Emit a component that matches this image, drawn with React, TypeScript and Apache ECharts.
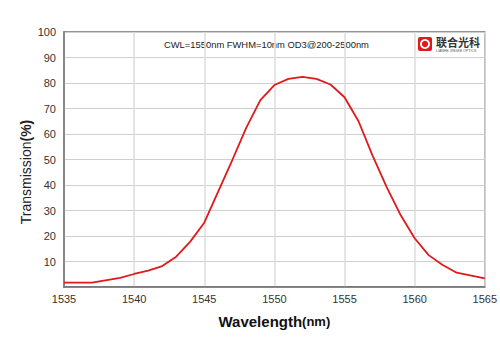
import React, { useEffect, useRef } from "react";
import * as echarts from "echarts";

const wavelengths = [1535, 1537, 1539, 1540, 1541, 1542, 1543, 1544, 1545, 1546, 1547, 1548, 1549, 1550, 1551, 1552, 1553, 1554, 1555, 1556, 1557, 1558, 1559, 1560, 1561, 1562, 1563, 1565];
const transmission = [1.7, 1.7, 3.6, 5.1, 6.4, 8.2, 11.9, 17.8, 25.2, 37.5, 49.8, 62.5, 73.3, 79.2, 81.6, 82.4, 81.6, 79.4, 74.4, 65.0, 51.5, 39.3, 28.2, 19.1, 12.5, 8.6, 5.6, 3.4];
const noteText = "CWL=1550nm FWHM=10nm OD3@200-2500nm";
const brandText = "联合光科";
const brandSub = "LIANHE JINGKE OPTICS";
const xTitle = "Wavelength";
const xUnit = "(nm)";
const yTitle = "Transmission";
const yUnit = "(%)";

export default function App() {
  const ref = useRef<HTMLDivElement>(null);
  useEffect(() => {
    document.body.style.margin = "0";
    if (!ref.current) return;
    const chart = echarts.init(ref.current, undefined, { renderer: "svg" });
    chart.setOption({
      animation: false,
      backgroundColor: "#ffffff",
      grid: {
        left: 64,
        right: 15,
        top: 32,
        bottom: 66,
        show: true,
        borderColor: "#707070",
        borderWidth: 1.5,
      },
      xAxis: {
        type: "value",
        min: 1535,
        max: 1565,
        interval: 5,
        axisLine: { show: true, lineStyle: { color: "#707070", width: 1.5 } },
        axisTick: { show: false },
        axisLabel: {
          color: "#333",
          fontSize: 11,
          fontFamily: "Liberation Sans, Arial",
          margin: 6,
          formatter: (v: number) => String(v),
        },
        splitLine: { show: true, lineStyle: { color: "#dcdcdc", width: 1.5 } },
        name: `{b|${xTitle}}{s|${xUnit}}`,
        nameLocation: "middle",
        nameGap: 27,
        nameTextStyle: {
          rich: {
            b: { fontSize: 15, fontWeight: "bold", color: "#111", fontFamily: "Liberation Sans, Arial" },
            s: { fontSize: 13, fontWeight: "bold", color: "#111", fontFamily: "Liberation Sans, Arial" },
          },
        },
      },
      yAxis: {
        type: "value",
        min: 0,
        max: 100,
        interval: 10,
        axisLine: { show: true, lineStyle: { color: "#707070", width: 1.5 } },
        axisTick: { show: false },
        axisLabel: {
          color: "#333",
          fontSize: 11,
          fontFamily: "Liberation Sans, Arial",
          margin: 8,
          formatter: (v: number) => (v === 0 ? "" : String(v)),
        },
        splitLine: { show: true, lineStyle: { color: "#cfcfcf", width: 1 } },
      },
      series: [
        {
          type: "line",
          data: wavelengths.map((w, i) => [w, transmission[i]]),
          symbol: "none",
          smooth: false,
          lineStyle: { color: "#e0191b", width: 1.8 },
        },
      ],
      graphic: [
        {
          type: "text",
          x: 26,
          y: 172,
          rotation: Math.PI / 2,
          style: {
            text: `{n|${yTitle}}{b|${yUnit}}`,
            align: "center",
            verticalAlign: "middle",
            rich: {
              n: { fontSize: 14, fill: "#222", fontFamily: "Liberation Sans, Arial" },
              b: { fontSize: 14, fontWeight: "bold", fill: "#222", fontFamily: "Liberation Sans, Arial" },
            },
          },
        },
        {
          type: "text",
          left: 164,
          top: 40,
          style: { text: noteText, fontSize: 9.4, fill: "#222", fontFamily: "Liberation Sans, Arial" },
        },
        {
          type: "rect",
          shape: { x: 418, y: 37, width: 14, height: 14, r: 2 },
          style: { fill: "#e0191b" },
        },
        {
          type: "ring",
          shape: { cx: 425, cy: 44, r: 5, r0: 3.2 },
          style: { fill: "#ffffff" },
        },
        {
          type: "text",
          left: 436,
          top: 36,
          style: { text: brandText, fontSize: 11, fontWeight: "bold", fill: "#333", fontFamily: "Noto Sans CJK SC" },
        },
        {
          type: "text",
          left: 436,
          top: 49,
          style: { text: brandSub, fontSize: 3.5, fill: "#555", fontFamily: "Liberation Sans, Arial" },
        },
      ],
    });
    return () => chart.dispose();
  }, []);
  return <div ref={ref} style={{ width: 500, height: 353 }} />;
}
